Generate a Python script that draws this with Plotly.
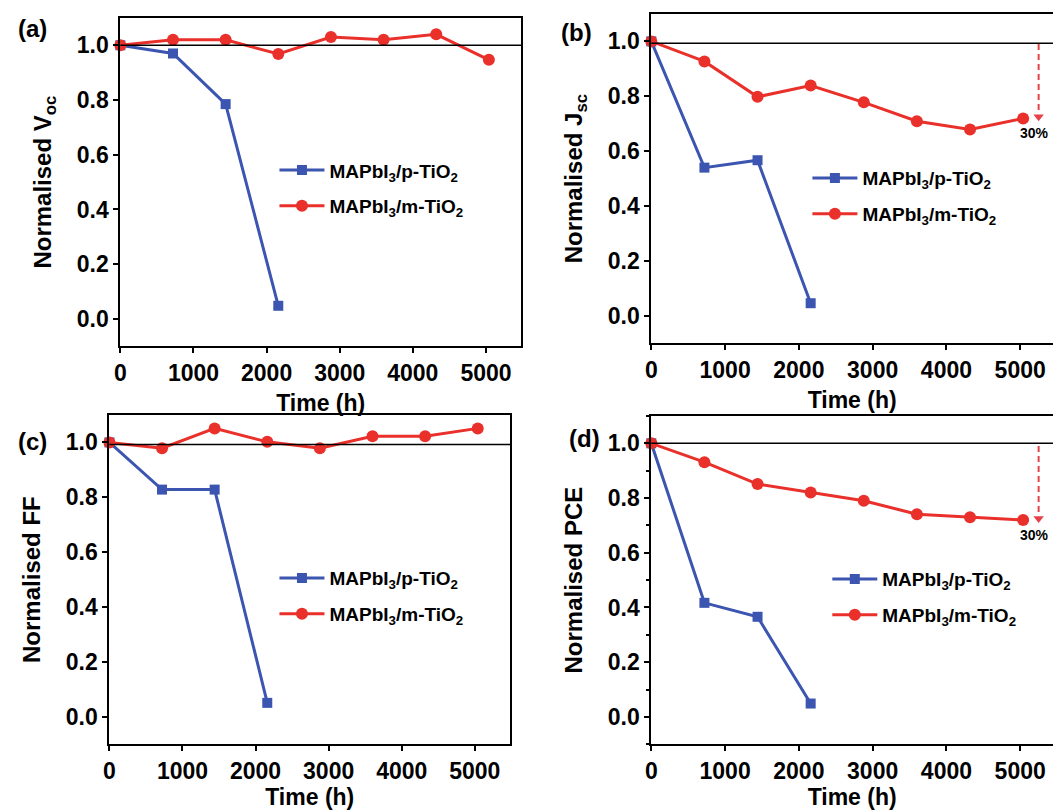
import plotly.graph_objects as go

# ---------------- data ----------------
time_p = [0, 720, 1440, 2160]
time_m = [0, 720, 1440, 2160, 2880, 3600, 4320, 5040]

voc_p = [1.0, 0.97, 0.785, 0.048]
voc_m = [1.0, 1.02, 1.02, 0.968, 1.03, 1.02, 1.04, 0.947]

jsc_p = [1.0, 0.54, 0.567, 0.046]
jsc_m = [1.0, 0.927, 0.798, 0.839, 0.778, 0.709, 0.679, 0.719]

ff_p = [1.0, 0.828, 0.828, 0.051]
ff_m = [1.0, 0.979, 1.051, 1.002, 0.979, 1.022, 1.022, 1.051]

pce_p = [1.0, 0.417, 0.366, 0.049]
pce_m = [1.0, 0.931, 0.851, 0.82, 0.79, 0.741, 0.73, 0.72]

ref_level = [1.0, 0.993, 0.992, 1.0]  # horizontal reference line per panel
arrow_x = 5250
arrow_top = 0.99
arrow_bottom = 0.735
drop_label = "30%"

panel_labels = ["(a)", "(b)", "(c)", "(d)"]
y_titles = ["Normalised V<sub>oc</sub>", "Normalised J<sub>sc</sub>",
            "Normalised FF", "Normalised PCE"]
x_title = "Time (h)"
name_p = "MAPbI<sub>3</sub>/p-TiO<sub>2</sub>"
name_m = "MAPbI<sub>3</sub>/m-TiO<sub>2</sub>"

# ---------------- style ----------------
W, H = 1053, 810
BLUE = "#3b55b0"
RED = "#e9302a"
FONT = "Liberation Sans"

panels = [
    dict(p=voc_p, m=voc_m, xd=(115, 518), yd=(18, 348), xmax=5480, full=True, minor=False),
    dict(p=jsc_p, m=jsc_m, xd=(649, 1053), yd=(14, 345), xmax=(1053 - 649) / 0.0742, full=False, minor=False),
    dict(p=ff_p, m=ff_m, xd=(104, 507), yd=(417, 748), xmax=5483, full=True, minor=False),
    dict(p=pce_p, m=pce_m, xd=(649, 1053), yd=(418, 748), xmax=(1053 - 649) / 0.0742, full=False, minor=True),
]
legend_pos = [(270, 152), (806, 160), (270, 562), (826, 563)]
label_pos = [(27, 29), (574, 33), (27, 444), (582, 441)]

fig = go.Figure()
layout = dict(
    width=W, height=H, margin=dict(l=0, r=0, t=0, b=0),
    paper_bgcolor="white", plot_bgcolor="white",
    font=dict(family=FONT, color="black", weight="bold"),
    showlegend=True,
)
annotations = []
shapes = []

for i, pn in enumerate(panels):
    k = "" if i == 0 else str(i + 1)
    xa, ya = "x" + k, "y" + k
    leg = "legend" if i == 0 else "legend" + str(i + 1)
    fig.add_trace(go.Scatter(
        x=time_p, y=pn["p"], name=name_p, mode="lines+markers", legendgroup="p" + k,
        line=dict(color=BLUE, width=3), marker=dict(symbol="square", size=10, color=BLUE),
        xaxis=xa, yaxis=ya, legend=leg, cliponaxis=False))
    fig.add_trace(go.Scatter(
        x=time_m, y=pn["m"], name=name_m, mode="lines+markers", legendgroup="m" + k,
        line=dict(color=RED, width=3), marker=dict(symbol="circle", size=12, color=RED),
        xaxis=xa, yaxis=ya, legend=leg, cliponaxis=False))

    x0, x1 = pn["xd"]
    yt, yb = pn["yd"]
    layout["xaxis" + k] = dict(
        domain=[x0 / W, x1 / W], range=[0, pn["xmax"]], anchor=ya,
        tickvals=[0, 1000, 2000, 3000, 4000, 5000],
        showline=True, linecolor="black", linewidth=2, mirror=True,
        ticks="outside", ticklen=5, tickwidth=2, tickcolor="black",
        showgrid=False, zeroline=False,
        tickfont=dict(size=23, family=FONT, weight="bold"),
        title=dict(text=x_title, font=dict(size=23, family=FONT, weight="bold"), standoff=10),
    )
    yax = dict(
        domain=[1 - yb / H, 1 - yt / H], range=[-0.1, 1.1], anchor=xa,
        tickvals=[0, 0.2, 0.4, 0.6, 0.8, 1.0], tickformat=".1f",
        showline=True, linecolor="black", linewidth=2, mirror=pn["full"],
        ticks="outside", ticklen=5, tickwidth=2, tickcolor="black",
        showgrid=False, zeroline=False,
        tickfont=dict(size=23, family=FONT, weight="bold"),
        title=dict(text=y_titles[i], font=dict(size=24, family=FONT, weight="bold"), standoff=18),
    )
    if pn["minor"]:
        yax["minor"] = dict(dtick=0.1, ticks="outside", ticklen=3, tickwidth=1.5, tickcolor="black")
    layout["yaxis" + k] = yax

    shapes.append(dict(type="line", xref=xa + " domain", yref=ya, x0=0, x1=1,
                       y0=ref_level[i], y1=ref_level[i], line=dict(color="black", width=1.5)))

    lx, ly = legend_pos[i]
    layout[leg] = dict(
        x=lx / W, y=1 - ly / H, xanchor="left", yanchor="top",
        bgcolor="rgba(0,0,0,0)", borderwidth=0, itemwidth=45,
        font=dict(size=19, family=FONT, weight="bold"), tracegroupgap=8,
    )

    px, py = label_pos[i]
    annotations.append(dict(text=panel_labels[i], x=px / W, y=1 - py / H, xref="paper", yref="paper",
                            xanchor="center", yanchor="middle",
                            showarrow=False, font=dict(size=24, family=FONT, weight="bold")))

    if not pn["full"]:
        fig.add_trace(go.Scatter(
            x=[arrow_x, arrow_x], y=[arrow_top, arrow_bottom], mode="lines",
            line=dict(color="#e8404a", width=2, dash="6px,4px"), showlegend=False,
            xaxis=xa, yaxis=ya, hoverinfo="skip"))
        fig.add_trace(go.Scatter(
            x=[arrow_x], y=[arrow_bottom - 0.01], mode="markers",
            marker=dict(symbol="triangle-down", size=9, color="#e8404a"), showlegend=False,
            xaxis=xa, yaxis=ya, hoverinfo="skip", cliponaxis=False))
        annotations.append(dict(text=drop_label, x=arrow_x - 50, y=0.665, xref=xa, yref=ya,
                                showarrow=False, font=dict(size=14, family=FONT, weight="bold")))

layout["annotations"] = annotations
layout["shapes"] = shapes
fig.update_layout(**layout)
fig.write_html("out.html", config={"displayModeBar": False},
               post_script="document.body.style.margin='0';")
